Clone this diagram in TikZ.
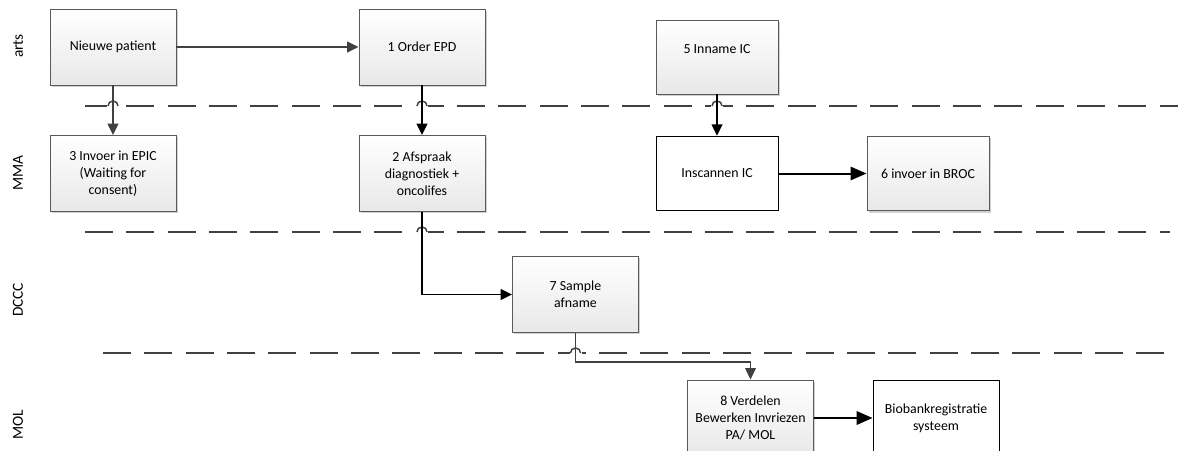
\documentclass[tikz,border=0pt]{standalone}
\usepackage{fontspec}
\setmainfont{Carlito}
\usepackage{tikz}
\usetikzlibrary{arrows.meta,positioning,shadows}

\definecolor{lanegray}{HTML}{404040}
\definecolor{boxborder}{HTML}{5A5A5A}

\begin{document}
\begin{tikzpicture}
[x=0.75pt, y=-0.75pt,
every node/.style={font=\fontsize{10.4}{12.75}\selectfont, align=center},
task/.style={draw=boxborder, line width=0.7pt, top color=white, bottom color=black!9,
  minimum width=94.5pt, minimum height=57pt, inner sep=2pt,
  drop shadow={shadow xshift=1.3pt, shadow yshift=-1.3pt, fill=black!30, opacity=0.6}},
plain/.style={draw=black, line width=0.6pt, fill=white, minimum width=91.5pt, minimum height=56pt},
lane/.style={rotate=90, font=\fontsize{11.5}{13}\selectfont},
divider/.style={draw=lanegray, line width=1.1pt, dash pattern=on 21pt off 10pt},
flow/.style={->, >={Triangle[length=8.5pt,width=8pt]}, line width=1.1pt},
grayflow/.style={flow, draw=lanegray},
bigflow/.style={->, >={Triangle[length=12pt,width=10pt]}, line width=1.5pt}
]
  \useasboundingbox (0,0) rectangle (1178,450);

  % lanes
  \node[lane] (arts) at (18,46)  {arts};
  \node[lane] (mma)  at (18,173) {MMA};
  \node[lane] (dccc) at (18,300) {DCCC};
  \node[lane] (mol)  at (18,425) {MOL};

  % steps
  \node[task] (patient) at (113,47)    {Nieuwe patient};
  \node[task] (order)   at (422,47)    {1 Order EPD};
  \node[task, minimum width=91.5pt, minimum height=55.5pt] (inname) at (717,57) {5 Inname IC\\ \mbox{}};
  \node[task] (invoer)  at (113,173.5) {3 Invoer in EPIC\\(Waiting for\\consent)};
  \node[task] (afspraak) at (422,173.5) {2 Afspraak\\diagnostiek +\\oncolifes};
  \node[plain] (scan)   at (717,173.5) {Inscannen IC};
  \node[task, minimum width=91.5pt, minimum height=56pt] (broc) at (928,173.5) {6 invoer in BROC};
  \node[task] (sample)  at (575.5,294.5) {7 Sample\\afname};
  \node[task] (verdelen) at (750.5,418) {8 Verdelen\\Bewerken Invriezen\\PA/ MOL};
  \node[plain, minimum width=94.5pt, minimum height=57pt] (biobank) at (936,418) {Biobankregistratie\\systeem};

  % lane dividers with hops
  \draw[divider] (85,106) -- (1190,106);
  \draw[divider] (85,232) -- (1170,232);
  \draw[divider] (103,353) -- (1190,353);
  \foreach \hx/\hy in {113/106, 422/106, 717/106, 422/232, 575.5/353} {
    \fill[white] ([xshift=-4.5pt, yshift=-1pt]\hx,\hy) rectangle ([xshift=4.5pt, yshift=1pt]\hx,\hy);
    \draw[lanegray, line width=1.1pt] ([xshift=-3.8pt]\hx,\hy) arc (180:0:3.8pt);
  }

  % connectors
  \draw[grayflow] (patient) -- (order);
  \draw[grayflow] (patient) -- (invoer);
  \draw[flow] (order) -- (afspraak);
  \draw[flow] (inname) -- (scan);
  \draw[bigflow] (scan) -- (broc);
  \draw[flow] (afspraak.south) |- (sample.west);
  \draw[grayflow, line width=0.9pt] (sample.south) -- ++(0,29) -| (verdelen.north);
  \draw[bigflow, line width=1.8pt] (verdelen) -- (biobank);
\end{tikzpicture}
\end{document}
